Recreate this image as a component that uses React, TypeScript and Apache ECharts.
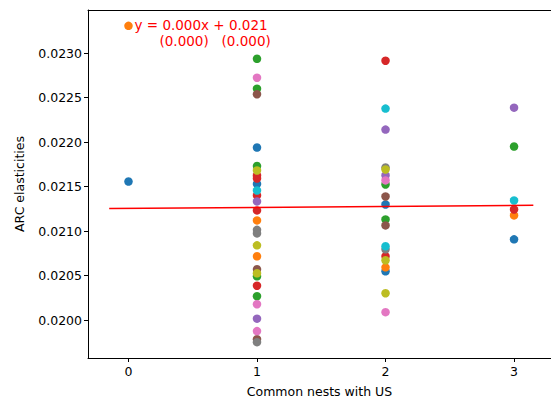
import React, { useEffect, useRef } from "react";
import * as echarts from "echarts";

// Data (x = common nests with US, y = ARC elasticity)
const blue: [number, number][] = [[0, 0.021558], [1, 0.02194], [1, 0.02153], [2, 0.0213], [2, 0.020549], [3, 0.020908]];
const orange: [number, number][] = [[0, 0.023307], [1, 0.021121], [1, 0.020718], [2, 0.020594], [3, 0.021177]];
const green: [number, number][] = [[1, 0.022937], [1, 0.022601], [1, 0.021732], [1, 0.020493], [1, 0.020269], [2, 0.021525], [2, 0.021132], [3, 0.021951]];
const red: [number, number][] = [[1, 0.021626], [1, 0.021592], [1, 0.021401], [1, 0.021233], [1, 0.020387], [2, 0.022915], [2, 0.020718], [3, 0.021244]];
const purple: [number, number][] = [[1, 0.021334], [1, 0.020017], [2, 0.022141], [2, 0.021626], [3, 0.022388]];
const brown: [number, number][] = [[1, 0.022539], [1, 0.020572], [1, 0.019787], [2, 0.02139], [2, 0.021065]];
const pink: [number, number][] = [[1, 0.022724], [1, 0.020179], [1, 0.019877], [2, 0.02157], [2, 0.02009]];
const gray: [number, number][] = [[1, 0.021015], [1, 0.020975], [1, 0.019753], [2, 0.021715], [2, 0.020796]];
const olive: [number, number][] = [[1, 0.021682], [1, 0.020841], [1, 0.020527], [2, 0.021693], [2, 0.020673], [2, 0.020303]];
const cyan: [number, number][] = [[1, 0.021457], [2, 0.022377], [2, 0.02083], [3, 0.021345]];

const regressionLine: [number, number][] = [[-0.15, 0.021255], [3.15, 0.02129]];

const equationLine1 = "y = 0.000x + 0.021";
const equationLine2 = "(0.000)   (0.000)";

const groups: { data: [number, number][]; color: string }[] = [
  { data: blue, color: "#1f77b4" },
  { data: orange, color: "#ff7f0e" },
  { data: green, color: "#2ca02c" },
  { data: red, color: "#d62728" },
  { data: purple, color: "#9467bd" },
  { data: brown, color: "#8c564b" },
  { data: pink, color: "#e377c2" },
  { data: gray, color: "#7f7f7f" },
  { data: olive, color: "#bcbd22" },
  { data: cyan, color: "#17becf" },
];

const FONT = "DejaVu Sans";

export default function App() {
  const ref = useRef<HTMLDivElement>(null);
  useEffect(() => {
    if (!ref.current) return;
    const chart = echarts.init(ref.current, undefined, { renderer: "svg" });
    const axisLine = { show: true, lineStyle: { color: "#000", width: 1 } };
    chart.setOption({
      animation: false,
      backgroundColor: "#fff",
      textStyle: { fontFamily: FONT },
      grid: { left: 88, right: 0, top: 10, bottom: 45, containLabel: false },
      xAxis: [
        {
          type: "value",
          min: -0.315,
          max: 3.2875,
          splitNumber: 4,
          minInterval: 1,
          maxInterval: 1,
          axisLine: { ...axisLine, onZero: false },
          axisTick: { show: true, length: 4, inside: false, lineStyle: { color: "#000" } },
          axisLabel: {
            showMinLabel: false,
            showMaxLabel: false,
            color: "#000",
            fontSize: 12.5,
            fontFamily: FONT,
            margin: 7,
            formatter: (v: number) => String(Math.round(v)),
          },
          splitLine: { show: false },
          name: "Common nests with US",
          nameLocation: "middle",
          nameGap: 27,
          nameTextStyle: { color: "#000", fontSize: 12.5, fontFamily: FONT },
        },
        {
          type: "value",
          position: "top",
          min: -0.315,
          max: 3.2875,
          axisLine: { ...axisLine, onZero: false },
          axisTick: { show: false },
          axisLabel: { show: false },
          splitLine: { show: false },
        },
      ],
      yAxis: {
        type: "value",
        min: 0.019575,
        max: 0.023485,
        splitNumber: 8,
        minInterval: 0.0005,
        maxInterval: 0.0005,
        axisLine: { ...axisLine, onZero: false },
        axisTick: { show: true, length: 4, inside: false, lineStyle: { color: "#000" } },
        axisLabel: {
          showMinLabel: false,
          showMaxLabel: false,
          color: "#000",
          fontSize: 12.5,
          fontFamily: FONT,
          margin: 6,
          formatter: (v: number) => v.toFixed(4),
        },
        splitLine: { show: false },
        name: "ARC elasticities",
        nameLocation: "middle",
        nameGap: 62,
        nameTextStyle: { color: "#000", fontSize: 12.5, fontFamily: FONT },
      },
      series: [
        ...groups.map((g) => ({
          type: "scatter",
          data: g.data,
          symbol: "circle",
          symbolSize: 8.5,
          itemStyle: { color: g.color, opacity: 1 },
          z: 2,
        })),
        {
          type: "line",
          data: regressionLine,
          showSymbol: false,
          symbol: "none",
          lineStyle: { color: "#ff0000", width: 1.5 },
          z: 3,
        },
      ],
      graphic: [
        {
          type: "text",
          x: 134.5,
          y: 25,
          style: {
            text: equationLine1,
            fill: "#ff0000",
            font: `13.5px "${FONT}"`,
            verticalAlign: "middle",
          },
        },
        {
          type: "text",
          x: 159.5,
          y: 40.5,
          style: {
            text: equationLine2,
            fill: "#ff0000",
            font: `13.5px "${FONT}"`,
            verticalAlign: "middle",
          },
        },
      ],
    });
    return () => chart.dispose();
  }, []);
  return (
    <div
      ref={ref}
      style={{ position: "fixed", left: 0, top: 0, width: 551, height: 403, background: "#fff" }}
    />
  );
}
